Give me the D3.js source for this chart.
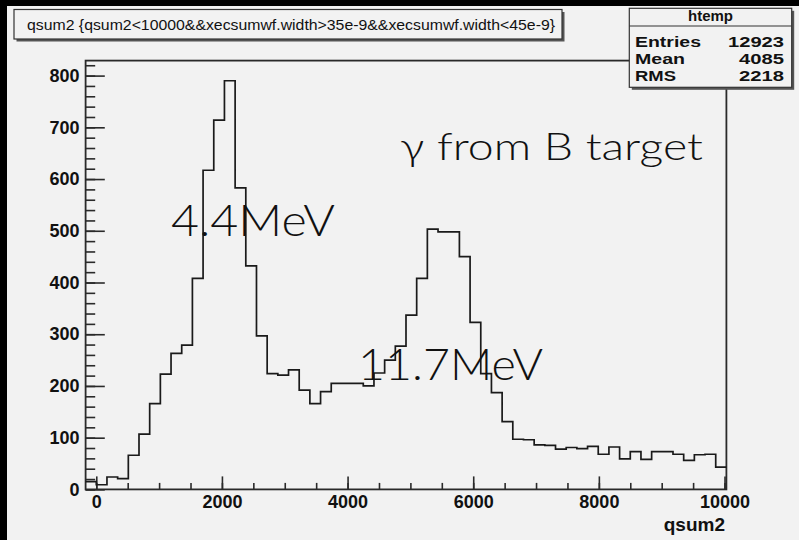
<!DOCTYPE html>
<html>
<head>
<meta charset="utf-8">
<script src="https://cdn.jsdelivr.net/npm/d3@7"></script>
<style>
  body { margin: 0; background: #000; }
  svg { display: block; }
</style>
</head>
<body>
<div id="chart"></div>
<script>
//Histogram data (qsum2, 60 bins)
var xMin = -170;
var binWidth = 170;
var counts = [15, 9, 24, 21, 66, 107, 166, 223, 263, 279,
              408, 617, 714, 790, 583, 432, 297, 224, 221, 231,
              192, 166, 189, 205, 205, 205, 200, 225, 250, 277,
              337, 408, 503, 498, 498, 450, 323, 224, 187, 131,
              97, 96, 86, 85, 78, 81, 79, 83, 68, 82,
              59, 73, 58, 73, 73, 68, 56, 67, 68, 43];
var xMajor = [0, 2000, 4000, 6000, 8000, 10000];
var xMinor = d3.range(0, 10001, 500);
var yMajor = [0, 100, 200, 300, 400, 500, 600, 700, 800];
var yMinor = d3.range(0, 821, 20);
var statsRows = [["Entries", "12923"], ["Mean", "4085"], ["RMS", "2218"]];
var titleText = "qsum2 {qsum2<10000&&xecsumwf.width>35e-9&&xecsumwf.width<45e-9}";

//Chart set up
var svgWidth = 799;
var svgHeight = 540;
var frame = {left: 85.6, right: 726.4, top: 60.6, bottom: 489.4};
var bg = "#f2f2f2";

var svg = d3.select("#chart")
    .append("svg")
    .attr("width", svgWidth)
    .attr("height", svgHeight);

//canvas
svg.append("rect")
    .attr("x", 7).attr("y", 6)
    .attr("width", svgWidth - 7).attr("height", svgHeight - 6)
    .attr("fill", bg);

//scales
var xScale = d3.scaleLinear()
    .domain([xMin, xMin + counts.length * binWidth])
    .range([frame.left, frame.right]);

var yScale = d3.scaleLinear()
    .domain([0, 829])
    .range([frame.bottom, frame.top]);

//frame
svg.append("rect")
    .attr("x", frame.left).attr("y", frame.top)
    .attr("width", frame.right - frame.left)
    .attr("height", frame.bottom - frame.top)
    .attr("fill", bg)
    .attr("stroke", "#2a2a2a")
    .attr("stroke-width", 1.8);

//axes
function drawAxis(axis, transform) {
    var g = svg.append("g")
        .attr("transform", transform)
        .call(axis);
    g.select(".domain").remove();
    g.selectAll(".tick line")
        .attr("stroke", "#2a2a2a")
        .attr("stroke-width", 1.6);
    g.selectAll("text")
        .attr("fill", "#111")
        .style("font-family", "'Liberation Sans', Arial, sans-serif")
        .style("font-weight", "bold")
        .style("font-size", "18px");
    return g;
}

drawAxis(d3.axisBottom(xScale).tickValues(xMinor).tickSize(-6.5).tickFormat(""),
    `translate(0, ${frame.bottom})`);
drawAxis(d3.axisBottom(xScale).tickValues(xMajor).tickSize(-13).tickPadding(5.5).tickFormat(d3.format("d")),
    `translate(0, ${frame.bottom})`);
drawAxis(d3.axisLeft(yScale).tickValues(yMinor).tickSize(-9.6).tickFormat(""),
    `translate(${frame.left}, 0)`);
drawAxis(d3.axisLeft(yScale).tickValues(yMajor).tickSize(-19.2).tickPadding(6).tickFormat(d3.format("d")),
    `translate(${frame.left}, 0)`);

//axis title
svg.append("text")
    .attr("x", 725)
    .attr("y", 531)
    .attr("text-anchor", "end")
    .style("font-family", "'Liberation Sans', Arial, sans-serif")
    .style("font-weight", "bold")
    .style("font-size", "19px")
    .attr("fill", "#111")
    .text("qsum2");

//histogram outline
var steps = counts.map(function(c, i) { return [xMin + i * binWidth, c]; });
steps.push([xMin + counts.length * binWidth, counts[counts.length - 1]]);

var line = d3.line()
    .x(d => xScale(d[0]))
    .y(d => yScale(d[1]))
    .curve(d3.curveStepAfter);

svg.append("path")
    .datum(steps)
    .attr("d", line)
    .attr("fill", "none")
    .attr("stroke", "#1a1a1a")
    .attr("stroke-width", 1.7);

//title box
svg.append("rect")
    .attr("x", 16.5).attr("y", 12)
    .attr("width", 548).attr("height", 29.5)
    .attr("fill", "#555");
svg.append("rect")
    .attr("x", 14).attr("y", 9.5)
    .attr("width", 548).attr("height", 29.5)
    .attr("fill", bg)
    .attr("stroke", "#333")
    .attr("stroke-width", 1.2);
svg.append("text")
    .attr("x", 27)
    .attr("y", 30)
    .attr("textLength", 528)
    .attr("lengthAdjust", "spacingAndGlyphs")
    .style("font-family", "'Liberation Sans', Arial, sans-serif")
    .style("font-size", "15px")
    .attr("fill", "#111")
    .text(titleText);

//stats box
var sb = {x: 629.3, y: 8.3, w: 162.4, h: 79};
svg.append("rect")
    .attr("x", sb.x + 2.5).attr("y", sb.y + 2.5)
    .attr("width", sb.w).attr("height", sb.h)
    .attr("fill", "#555");
svg.append("rect")
    .attr("x", sb.x).attr("y", sb.y)
    .attr("width", sb.w).attr("height", sb.h)
    .attr("fill", bg)
    .attr("stroke", "#333")
    .attr("stroke-width", 1.2);
svg.append("line")
    .attr("x1", sb.x).attr("x2", sb.x + sb.w)
    .attr("y1", 26).attr("y2", 26)
    .attr("stroke", "#333")
    .attr("stroke-width", 1.2);

var statFont = "'Liberation Sans', Arial, sans-serif";
svg.append("text")
    .attr("x", sb.x + sb.w / 2)
    .attr("y", 21)
    .attr("text-anchor", "middle")
    .style("font-family", statFont)
    .style("font-weight", "bold")
    .style("font-size", "15px")
    .attr("fill", "#111")
    .text("htemp");

var rows = svg.selectAll(".statrow")
    .data(statsRows)
    .enter()
    .append("g")
    .attr("class", "statrow");

var labelLen = {"Entries": 66, "Mean": 50, "RMS": 41};
var valueLen = {"12923": 56, "4085": 45, "2218": 45};

rows.append("text")
    .attr("x", 635)
    .attr("y", (d, i) => 46.8 + i * 16.9)
    .attr("textLength", d => labelLen[d[0]])
    .attr("lengthAdjust", "spacingAndGlyphs")
    .style("font-family", statFont)
    .style("font-weight", "bold")
    .style("font-size", "14.5px")
    .attr("fill", "#111")
    .text(d => d[0]);

rows.append("text")
    .attr("x", 784 - 56)
    .attr("y", (d, i) => 46.8 + i * 16.9)
    .attr("dx", d => 56 - valueLen[d[1]])
    .attr("textLength", d => valueLen[d[1]])
    .attr("lengthAdjust", "spacingAndGlyphs")
    .style("font-family", statFont)
    .style("font-weight", "bold")
    .style("font-size", "14.5px")
    .attr("fill", "#111")
    .text(d => d[1]);

//annotations
var noteFont = "Lato, 'Noto Sans', sans-serif";
var notes = [
    {t: "\u03b3 from B target", x: 400, y: 160, size: 38, len: 303},
    {t: "4.4MeV", x: 171, y: 235.5, size: 44, len: 164},
    {t: "11.7MeV", x: 358, y: 380, size: 44, len: 185}
];

svg.selectAll(".note")
    .data(notes)
    .enter()
    .append("text")
    .attr("class", "note")
    .attr("x", d => d.x)
    .attr("y", d => d.y)
    .attr("textLength", d => d.len)
    .attr("lengthAdjust", "spacingAndGlyphs")
    .style("font-family", noteFont)
    .style("font-weight", 300)
    .style("font-size", d => d.size + "px")
    .attr("fill", "#111")
    .text(d => d.t);
</script>
</body>
</html>
